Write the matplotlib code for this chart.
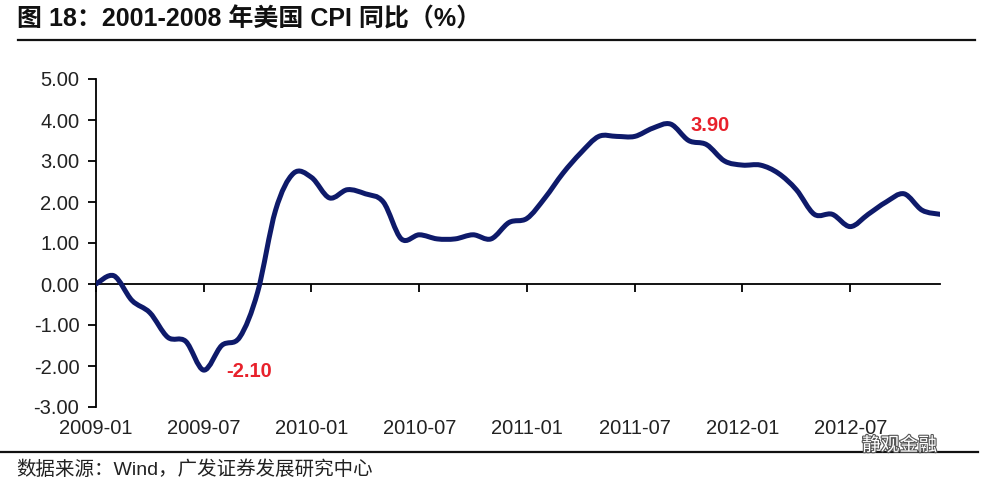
import numpy as np
import matplotlib
matplotlib.use("Agg")
import matplotlib.pyplot as plt
from matplotlib.path import Path
from matplotlib.patches import PathPatch
import matplotlib.patheffects as pe

plt.rcParams['font.family'] = ['Liberation Sans', 'Noto Sans CJK SC', 'DejaVu Sans']

# ---- data ----
months = [f"{y}-{m:02d}" for y in range(2009, 2013) for m in range(1, 13)]
cpi_yoy = [0.0, 0.2, -0.4, -0.7, -1.3, -1.4, -2.1, -1.5, -1.3, -0.2, 1.8, 2.7,
           2.6, 2.1, 2.3, 2.2, 2.0, 1.1, 1.2, 1.1, 1.1, 1.2, 1.1, 1.5,
           1.6, 2.1, 2.7, 3.2, 3.6, 3.6, 3.6, 3.8, 3.9, 3.5, 3.4, 3.0,
           2.9, 2.9, 2.7, 2.3, 1.7, 1.7, 1.4, 1.7, 2.0, 2.2, 1.8, 1.7]
tick_labels = ["2009-01", "2009-07", "2010-01", "2010-07",
               "2011-01", "2011-07", "2012-01", "2012-07"]
y_ticks = [5, 4, 3, 2, 1, 0, -1, -2, -3]
annot_min_label = "-2.10"
annot_max_label = "3.90"

title = "图 18：2001-2008 年美国 CPI 同比（%）"
source = "数据来源：Wind，广发证券发展研究中心"

W, H = 984, 488
fig = plt.figure(figsize=(W / 100, H / 100), dpi=100)
ax = fig.add_axes([96 / W, 1 - 407 / H, (940 - 96) / W, (407 - 79) / H])

x = np.arange(len(cpi_yoy), dtype=float)
y = np.array(cpi_yoy, dtype=float)

# smooth line (Excel-style Bezier smoothing between the data points)
verts = [(x[0], y[0])]
codes = [Path.MOVETO]
n = len(x)
for i in range(n - 1):
    p0 = np.array([x[max(i - 1, 0)], y[max(i - 1, 0)]])
    p1 = np.array([x[i], y[i]])
    p2 = np.array([x[i + 1], y[i + 1]])
    p3 = np.array([x[min(i + 2, n - 1)], y[min(i + 2, n - 1)]])
    c1 = p1 + (p2 - p0) / 6.0
    c2 = p2 - (p3 - p1) / 6.0
    verts += [tuple(c1), tuple(c2), tuple(p2)]
    codes += [Path.CURVE4] * 3
line_color = "#0E1A6A"
patch = PathPatch(Path(verts, codes), facecolor="none", edgecolor=line_color,
                  lw=3.6, capstyle="round", joinstyle="round", zorder=3)
ax.add_patch(patch)

ax.set_xlim(0, len(cpi_yoy) - 1)
ax.set_ylim(min(y_ticks), max(y_ticks))

# axes styling
for s in ["top", "right"]:
    ax.spines[s].set_visible(False)
ax.spines["bottom"].set_position(("data", 0))
ax.spines["bottom"].set_linewidth(1.3)
ax.spines["left"].set_linewidth(1.3)
ax.set_yticks(y_ticks)
ax.set_yticklabels([f"{v:.2f}" for v in y_ticks])
ax.tick_params(axis="y", direction="out", length=6, width=1.3, labelsize=14.5,
               pad=6, colors="black", labelcolor="#222222")
tick_pos = [months.index(t) for t in tick_labels]
ax.set_xticks(tick_pos)
ax.tick_params(axis="x", direction="out", length=6, width=1.3, labelbottom=False)

sec = ax.secondary_xaxis(0)
sec.set_xticks(tick_pos)
sec.set_xticklabels(tick_labels)
sec.tick_params(length=0, labelsize=14.5, pad=9, labelcolor="#222222")
sec.spines["bottom"].set_visible(False)

# annotations
i_min = int(np.argmin(y))
i_max = int(np.argmax(y))
red = "#E8212B"
ax.annotate(annot_min_label, (x[i_min], y[i_min]), xytext=(16, -1),
            textcoords="offset points", ha="left", va="center",
            color=red, fontsize=14.5, fontweight="bold")
ax.annotate(annot_max_label, (x[i_max], y[i_max]), xytext=(14, -1),
            textcoords="offset points", ha="left", va="center",
            color=red, fontsize=14.5, fontweight="bold")

# title and rules
fig.text(17 / W, 1 - 19 / H, title, ha="left", va="center", fontsize=18,
         fontweight="bold", color="#111111")
fig.add_artist(plt.Line2D([18 / W, 975 / W], [1 - 39.5 / H, 1 - 39.5 / H],
                          color="#111111", lw=1.6, transform=fig.transFigure))
fig.add_artist(plt.Line2D([0 / W, 978 / W], [1 - 452 / H, 1 - 452 / H],
                          color="#111111", lw=1.6, transform=fig.transFigure))
fig.text(16 / W, 1 - 470 / H, source, ha="left", va="center", fontsize=14,
         color="#222222")

# watermark
fig.text(862 / W, 1 - 446 / H, "静观金融", ha="left", va="center", fontsize=13.5,
         color="white",
         path_effects=[pe.withStroke(linewidth=1.6, foreground="#555555")])

fig.savefig("out.png", dpi=100)
